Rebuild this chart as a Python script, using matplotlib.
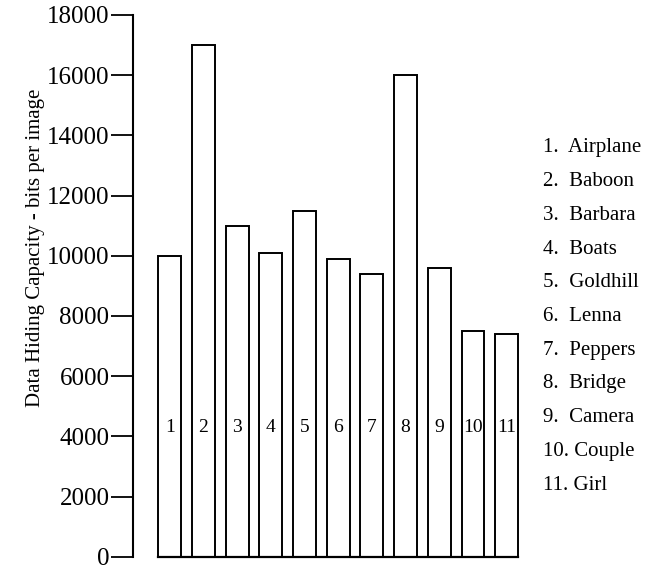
import matplotlib
matplotlib.use("Agg")
import matplotlib.pyplot as plt

plt.rcParams['font.family'] = ['Liberation Serif', 'DejaVu Serif']

# data
image_ids = [1, 2, 3, 4, 5, 6, 7, 8, 9, 10, 11]
image_names = ["Airplane", "Baboon", "Barbara", "Boats", "Goldhill", "Lenna",
               "Peppers", "Bridge", "Camera", "Couple", "Girl"]
capacity = [10000, 17000, 11000, 10100, 11500, 9900, 9400, 16000, 9600, 7500, 7400]
y_ticks = [0, 2000, 4000, 6000, 8000, 10000, 12000, 14000, 16000, 18000]
label_level = 4300

bar_w = 0.68

fig = plt.figure(figsize=(6.5, 5.7), dpi=100)
ax = fig.add_axes([0.2046, 0.023, 0.606, 0.951])

ax.bar(image_ids, capacity, width=bar_w, color='white', edgecolor='black', linewidth=1.4)
# common baseline under the bars
ax.plot([image_ids[0] - bar_w / 2, image_ids[-1] + bar_w / 2], [0, 0],
        color='black', linewidth=1.6, clip_on=False)
for i in image_ids:
    ax.text(i, label_level, str(i), ha='center', va='center', fontsize=14)

ax.set_ylim(0, 18000)
ax.set_xlim(-0.09, 11.6)
ax.set_yticks(y_ticks)
ax.set_yticklabels([str(t) for t in y_ticks], fontsize=18)
ax.tick_params(axis='y', direction='out', length=16, width=1.3, pad=1)
ax.set_xticks([])
for s in ['top', 'right', 'bottom']:
    ax.spines[s].set_visible(False)
ax.spines['left'].set_linewidth(1.5)

fig.text(0.055, 0.565, "Data Hiding Capacity - bits per image", rotation=90,
         ha='center', va='center', fontsize=15)

# numbered key on the right
for k, (i, name) in enumerate(zip(image_ids, image_names)):
    y = 1 - (148 + 33.7 * k) / 570
    sep = "  " if i < 10 else " "
    fig.text(543 / 650, y, f"{i}.{sep}{name}", ha='left', va='center', fontsize=15)

fig.savefig("out.png", dpi=100)
